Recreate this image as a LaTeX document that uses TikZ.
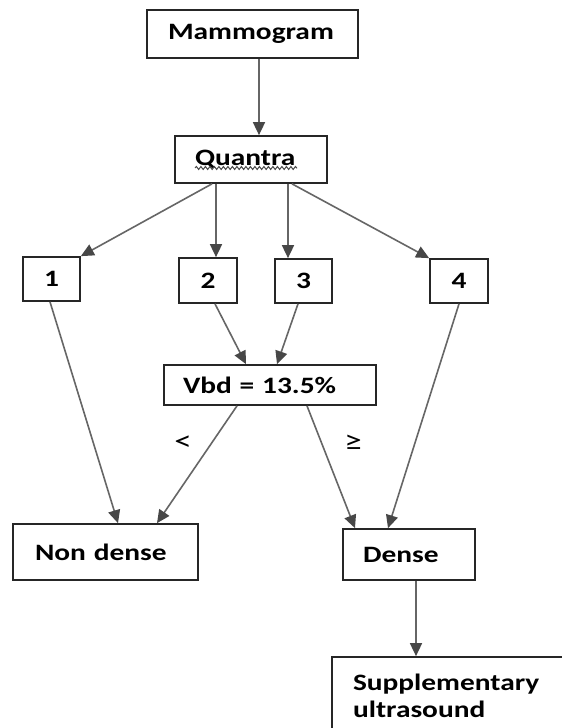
\documentclass[tikz,border=0pt]{standalone}
\usepackage{fontspec}
\setmainfont{Carlito}[FakeStretch=1.25]
\usetikzlibrary{arrows.meta,decorations.pathmorphing}
\begin{document}
\begin{tikzpicture}[x=1pt,y=-1pt,
  bx/.style={draw=black!85, line width=1.7pt, inner ysep=0pt, fill=white,
             font=\fontsize{23.5}{27}\selectfont\bfseries},
  lbx/.style={bx, align=left},
  nbx/.style={bx, inner xsep=0pt, align=center},
  arr/.style={draw=black!60, line width=1.6pt,
              -{Triangle[length=13pt,width=12pt,fill=black!72,color=black!72]}},
  lbl/.style={inner sep=0pt, font=\fontsize{28}{30}\selectfont}]
\useasboundingbox (0,0) rectangle (562,728);
\clip (0,0) rectangle (562,728);
\fill[white] (0,0) rectangle (562,728);

\node[lbx, inner xsep=21pt, text width=169pt, minimum height=48pt] (mam) at (252.5,34) {Mammogram};
\node[lbx, inner xsep=20pt, text width=112pt, minimum height=47pt] (quan) at (251,159.5) {Quantra};
\node[nbx, minimum width=57pt, minimum height=44pt] (b1) at (51.5,279) {1};
\node[nbx, minimum width=58pt, minimum height=45pt] (b2) at (208,280.5) {2};
\node[nbx, minimum width=57pt, minimum height=44pt] (b3) at (303.5,281) {3};
\node[nbx, minimum width=58pt, minimum height=44pt] (b4) at (459,281) {4};
\node[lbx, inner xsep=19pt, text width=174pt, minimum height=40pt] (vbd) at (270,385) {Vbd = 13.5\%};
\node[lbx, inner xsep=22pt, text width=141pt, minimum height=56pt] (nd) at (105.5,552) {Non dense};
\node[lbx, inner xsep=20pt, text width=92pt, minimum height=51pt] (dense) at (409,554.5) {Dense};
\node[lbx, inner xsep=21pt, text width=226pt, minimum height=78pt] (sup) at (466,696) {Supplementary\\ultrasound};

\node[lbl] (lt) at (183,443) {<};
\node[lbl] (ge) at (353,443) {≥};

\draw[decorate, decoration={snake, amplitude=1.5pt, segment length=4.5pt},
      line width=1pt, draw=black!70] (195,168) -- (297,168);

\draw[arr] ([xshift=6.5pt]mam.south) -- ([xshift=8pt]quan.north);
\draw[arr] ([xshift=-39pt]quan.south) -- (b1.north east);
\draw[arr] ([xshift=-35pt]quan.south) -- ([xshift=8pt]b2.north);
\draw[arr] ([xshift=37pt]quan.south) -- ([xshift=-15.5pt]b3.north);
\draw[arr] ([xshift=41pt]quan.south) -- (b4.north west);
\draw[arr] ([xshift=-1.5pt]b1.south) -- ([xshift=12.5pt]nd.north);
\draw[arr] ([xshift=7pt]b2.south) -- ([xshift=-24pt]vbd.north);
\draw[arr] ([xshift=-5.5pt]b3.south) -- ([xshift=7pt]vbd.north);
\draw[arr] (b4.south) -- ([xshift=-21pt]dense.north);
\draw[arr] ([xshift=-33pt]vbd.south) -- ([xshift=51.5pt]nd.north);
\draw[arr] ([xshift=37pt]vbd.south) -- ([xshift=-54pt]dense.north);
\draw[arr] ([xshift=7pt]dense.south) -- ([xshift=-50pt]sup.north);
\end{tikzpicture}
\end{document}
